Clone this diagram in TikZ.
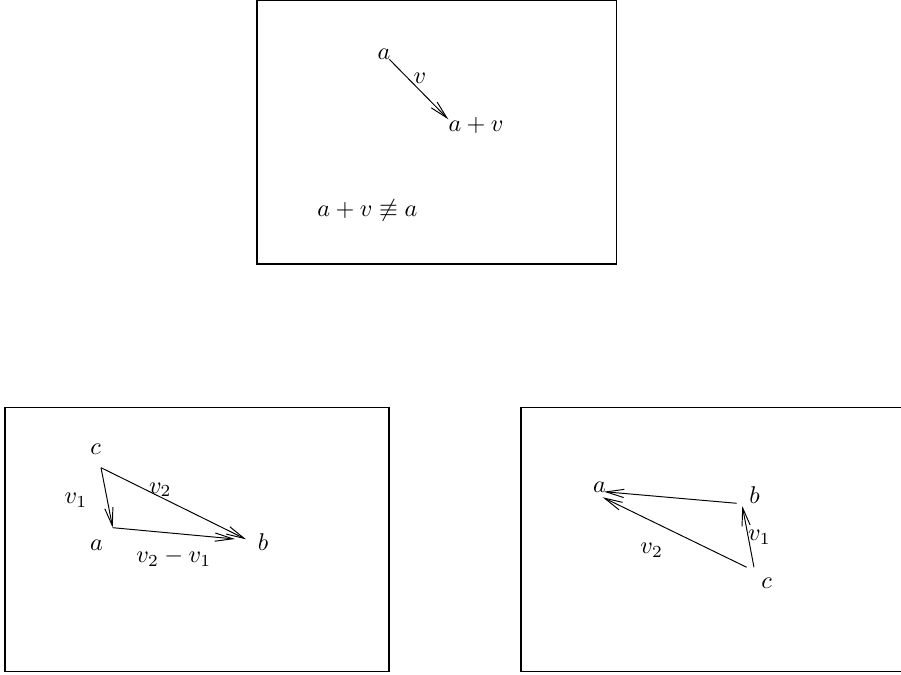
\documentclass[tikz,border=0pt]{standalone}
\usetikzlibrary{arrows.meta}
\begin{document}
\begin{tikzpicture}[x=0.4132pt,y=-0.4132pt,
  vec/.style={-{Straight Barb[length=7.4pt,width=3.4pt]}, line width=0.4pt},
  lbl/.style={anchor=base,inner sep=0pt},
  frame/.style={line width=0.45pt}]
\useasboundingbox (0,0) rectangle (901,675);
% frames
\draw[frame] (257,0.5) rectangle (616.7,264);
\draw[frame] (5,407.7) rectangle (389,671.7);
\draw[frame] (902,407.7) -- (521,407.7) -- (521,671.7) -- (902,671.7);
% top
\coordinate (A0) at (389.3,59.3);
\coordinate (B0) at (448.3,119.3);
\draw[vec] (A0) -- (B0);
\node[lbl] (ta) at (384,59.3) {$a$};
\node[lbl] (tv) at (420,83.3) {$v$};
\node[lbl] (tav) at (476,131.7) {$a+v$};
\node[lbl] (tneq) at (367.5,216.7) {$a+v\not\equiv a$};
% bottom left
\coordinate (C1) at (101,467.7);
\coordinate (A1) at (112.7,527.7);
\coordinate (B1) at (246,539.3);
\coordinate (B1b) at (235,539);
\draw[vec] (C1) -- (A1);
\draw[vec] (C1) -- (B1);
\draw[vec] (A1) -- (B1b);
\node[lbl] (lc) at (95.7,455) {$c$};
\node[lbl] (lv1) at (76,504) {$v_1$};
\node[lbl] (lv2) at (160.3,493.3) {$v_2$};
\node[lbl] (la) at (96.5,550.7) {$a$};
\node[lbl] (lb) at (263,550.7) {$b$};
\node[lbl] (ldiff) at (173.8,562.7) {$v_2-v_1$};
% bottom right
\coordinate (Bs) at (736.7,503.3);
\coordinate (Aa) at (604,491.7);
\coordinate (Cs1) at (746.7,567.3);
\coordinate (Ab) at (602.7,497.3);
\coordinate (Cs2) at (754,567.3);
\coordinate (Bt) at (742.3,506);
\draw[vec] (Bs) -- (Aa);
\draw[vec] (Cs1) -- (Ab);
\draw[vec] (Cs2) -- (Bt);
\node[lbl] (ra) at (599.5,492.3) {$a$};
\node[lbl] (rb) at (754.5,504) {$b$};
\node[lbl] (rv1) at (759.5,540.7) {$v_1$};
\node[lbl] (rv2) at (651.7,554) {$v_2$};
\node[lbl] (rc) at (766.7,588.3) {$c$};
\end{tikzpicture}
\end{document}
